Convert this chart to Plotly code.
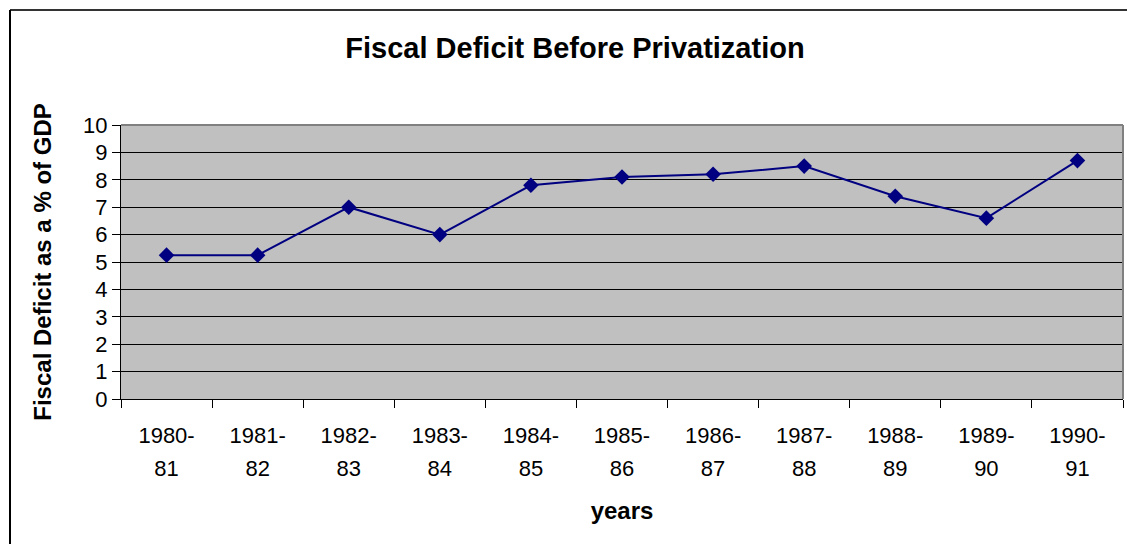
import plotly.graph_objects as go

# Fiscal deficit (% of GDP) by fiscal year
years = ["1980-81", "1981-82", "1982-83", "1983-84", "1984-85", "1985-86",
         "1986-87", "1987-88", "1988-89", "1989-90", "1990-91"]
deficit = [5.25, 5.25, 7.0, 6.0, 7.8, 8.1, 8.2, 8.5, 7.4, 6.6, 8.7]
y_ticks = list(range(0, 11))

# two-line category labels: "1980-" on top, "81" underneath
label_top = [y.split("-")[0] + "-" for y in years]
label_bottom = [y.split("-")[1] for y in years]

FONT = "Liberation Sans, Arial, sans-serif"
NAVY = "#000080"
X_RANGE = [-0.5, len(years) - 0.5]

fig = go.Figure()
fig.add_trace(go.Scatter(
    x=years, y=deficit, mode="lines+markers",
    line=dict(color=NAVY, width=2),
    marker=dict(symbol="diamond", size=12, color=NAVY),
    showlegend=False, hoverinfo="x+y",
))
# carrier for the second row of category labels
fig.add_trace(go.Scatter(
    x=years, y=deficit, xaxis="x2", mode="markers",
    marker=dict(opacity=0), showlegend=False, hoverinfo="skip",
))

fig.update_layout(
    width=1127, height=544,
    margin=dict(l=121, r=4, t=125, b=145),
    paper_bgcolor="white", plot_bgcolor="#C0C0C0",
    font=dict(family=FONT, color="black", size=22),
    title=dict(
        text="<b>Fiscal Deficit Before Privatization</b>",
        font=dict(size=29, family=FONT, color="black"),
        x=575 / 1127, xanchor="center", xref="container",
        y=1 - 48 / 544, yanchor="middle", yref="container",
    ),
    xaxis=dict(
        type="category", categoryorder="array", categoryarray=years,
        range=X_RANGE, autorange=False,
        tickmode="array", tickvals=years, ticktext=label_top,
        tickson="boundaries", ticks="outside", ticklen=8, tickcolor="black",
        showline=True, linecolor="black", linewidth=1, mirror=False,
        showgrid=False, zeroline=False,
        ticklabelstandoff=17, tickfont=dict(size=22),
    ),
    xaxis2=dict(
        type="category", overlaying="x", matches="x", anchor="y", side="bottom",
        categoryorder="array", categoryarray=years,
        range=X_RANGE, autorange=False,
        tickmode="array", tickvals=years, ticktext=label_bottom,
        ticks="", showline=False, showgrid=False, zeroline=False,
        ticklabelstandoff=54, tickfont=dict(size=22),
        title=dict(text="<b>years</b>", font=dict(size=24), standoff=22),
    ),
    yaxis=dict(
        range=[0, 10], tickmode="array", tickvals=y_ticks,
        ticks="outside", ticklen=8, tickcolor="black",
        showline=True, linecolor="black", linewidth=1,
        showgrid=True, gridcolor="black", gridwidth=1, zeroline=False,
        tickfont=dict(size=22),
        title=dict(text="<b>Fiscal Deficit as a % of GDP</b>", font=dict(size=24), standoff=24),
    ),
    shapes=[
        # gray frame on the top and right of the plotting area
        dict(type="line", xref="paper", yref="paper", x0=0, x1=1, y0=1, y1=1,
             line=dict(color="#808080", width=2)),
        dict(type="line", xref="paper", yref="paper", x0=1, x1=1, y0=0, y1=1,
             line=dict(color="#808080", width=2)),
        # outer chart frame, running off the right and bottom edges
        dict(type="line", xref="paper", yref="paper",
             x0=-111 / 1002, x1=1.01, y0=1 + 115 / 274, y1=1 + 115 / 274,
             line=dict(color="#333333", width=2)),
        dict(type="line", xref="paper", yref="paper",
             x0=-111 / 1002, x1=-111 / 1002, y0=1 + 115 / 274, y1=-0.6,
             line=dict(color="black", width=2)),
    ],
)

fig.write_html("out.html")
